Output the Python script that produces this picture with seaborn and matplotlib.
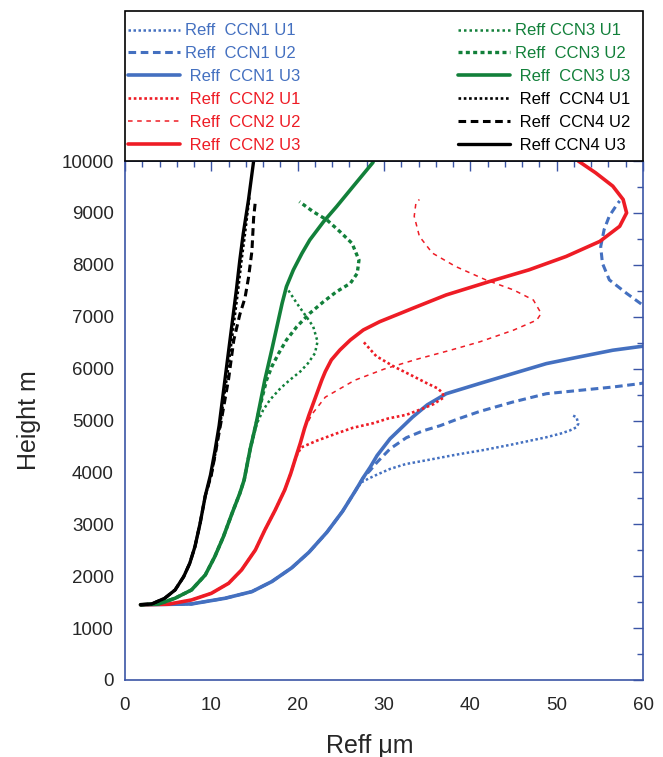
import matplotlib
matplotlib.use("Agg")
import matplotlib.pyplot as plt
from matplotlib.patches import Rectangle
from matplotlib.ticker import MultipleLocator
import seaborn as sns

# effective radius (um) vs height (m)
# CCN1 (blue)
ccn1_u1_x = [1.8, 7.7, 11.6, 14.7, 17.0, 19.3, 21.3, 23.4, 25.2, 26.7, 27.4, 28.2, 29.1, 30.7, 32.5, 35.5, 38.3, 41.5,
             44.9, 48.8, 50.5, 51.5, 52.3, 52.5, 52.3, 51.7]
ccn1_u1_h = [1450, 1465, 1575, 1703, 1896, 2160, 2460, 2850, 3250, 3650, 3810, 3880, 3950, 4067, 4160, 4252, 4340, 4430,
             4540, 4677, 4750, 4806, 4870, 4935, 5064, 5109]
ccn1_u2_x = [1.8, 7.7, 11.6, 14.7, 17.0, 19.3, 21.3, 23.4, 25.2, 26.7, 27.6, 28.4, 29.2, 30.7, 32.6, 34.5, 36.5, 38.4,
             41.0, 44.9, 48.8, 52.6, 56.5, 59.6, 62.5, 65, 66, 65, 63, 60, 58.1, 56.1, 55.3, 55.1, 55.5, 56.1, 57.1, 57.3]
ccn1_u2_h = [1450, 1465, 1575, 1703, 1896, 2160, 2460, 2850, 3250, 3650, 3900, 4040, 4196, 4454, 4670, 4800, 4900, 5020,
             5170, 5355, 5516, 5580, 5645, 5709, 5800, 6000, 6400, 6800, 7050, 7220, 7450, 7710, 8030, 8350, 8680, 8940,
             9190, 9230]
ccn1_u3_x = [1.8, 7.7, 11.6, 14.7, 17.0, 19.3, 21.3, 23.4, 25.2, 26.7, 27.6, 28.4, 29.2, 30.7, 33.3, 35.0, 37.2, 41.0,
             44.9, 48.8, 52.6, 56.5, 60]
ccn1_u3_h = [1450, 1465, 1575, 1703, 1896, 2160, 2460, 2850, 3250, 3650, 3900, 4100, 4325, 4648, 5064, 5300, 5516, 5709,
             5903, 6096, 6225, 6354, 6432]

# CCN2 (red)
ccn2_u1_x = [1.8, 5.0, 7.7, 10.0, 12.0, 13.5, 15.1, 16.2, 17.4, 18.5, 19.2, 19.8, 20.4, 22.2, 24.5, 26.4, 28.8, 30.5,
             32.6, 34.5, 35.8, 36.5, 36.9, 36.8, 36.2, 35.0, 33.3, 31.2, 29.1, 27.6]
ccn2_u1_h = [1450, 1460, 1542, 1670, 1863, 2120, 2505, 2890, 3275, 3661, 3980, 4300, 4480, 4610, 4750, 4860, 4950, 5040,
             5110, 5230, 5320, 5400, 5440, 5530, 5620, 5715, 5860, 6035, 6240, 6520]
ccn2_u2_x = [1.8, 5.0, 7.7, 10.0, 12.0, 13.5, 15.1, 16.2, 17.4, 18.5, 19.2, 19.8, 20.3, 20.8, 21.7, 23.2, 26.6, 30.0,
             33.8, 37.6, 41.1, 45.0, 47.7, 48.2, 47.3, 45.0, 41.8, 38.3, 35.6, 34.1, 33.5, 33.7, 34.1]
ccn2_u2_h = [1450, 1460, 1542, 1670, 1863, 2120, 2505, 2890, 3275, 3661, 3980, 4300, 4560, 4850, 5130, 5450, 5775, 5990,
             6180, 6350, 6516, 6741, 6935, 7064, 7322, 7516, 7709, 7967, 8226, 8548, 8935, 9193, 9258]
ccn2_u3_x = [1.8, 5.0, 7.7, 10.0, 12.0, 13.5, 15.1, 16.2, 17.4, 18.5, 19.2, 19.8, 20.3, 20.8, 21.3, 22.8, 23.2, 23.9,
             24.9, 26.1, 27.6, 29.5, 31.9, 33.3, 37.2, 42.2, 46.8, 51.1, 55.0, 57.3, 58.1, 57.7, 56.5, 54.5, 52.5]
ccn2_u3_h = [1450, 1460, 1542, 1670, 1863, 2120, 2505, 2890, 3275, 3661, 3980, 4300, 4560, 4850, 5100, 5782, 5942, 6167,
             6360, 6551, 6744, 6904, 7065, 7160, 7419, 7677, 7903, 8161, 8451, 8742, 9000, 9258, 9516, 9774, 10000]

# CCN3 (green)
ccn3_u1_x = [1.8, 3.9, 5.8, 7.7, 9.3, 10.4, 11.4, 12.4, 13.3, 13.8, 14.5, 15.3, 16.0, 16.8, 18.0, 19.1, 20.3, 21.2,
             22.0, 22.3, 21.8, 21.0, 19.9, 18.9, 18.7]
ccn3_u1_h = [1450, 1465, 1575, 1735, 2024, 2377, 2762, 3211, 3597, 3854, 4450, 4950, 5200, 5400, 5620, 5782, 5943, 6103,
             6296, 6521, 6810, 7002, 7259, 7515, 7580]
ccn3_u2_x = [1.8, 3.9, 5.8, 7.7, 9.3, 10.4, 11.4, 12.4, 13.3, 13.8, 14.5, 15.2, 15.9, 16.4, 17.0, 17.8, 18.7, 19.9,
             21.4, 23.0, 24.5, 26.1, 26.9, 27.1, 26.3, 24.9, 23.4, 21.8, 20.2]
ccn3_u2_h = [1450, 1465, 1575, 1735, 2024, 2377, 2762, 3211, 3597, 3854, 4450, 4950, 5450, 5780, 6037, 6294, 6551, 6808,
             7065, 7290, 7482, 7643, 7836, 8092, 8413, 8638, 8863, 9023, 9216]
ccn3_u3_x = [1.8, 3.9, 5.8, 7.7, 9.3, 10.4, 11.4, 12.4, 13.3, 13.8, 14.5, 15.2, 16.2, 17.0, 17.6, 18.2, 18.7, 19.5,
             20.5, 21.4, 23.0, 24.5, 26.4, 28.7, 28.9]
ccn3_u3_h = [1450, 1465, 1575, 1735, 2024, 2377, 2762, 3211, 3597, 3854, 4450, 4950, 5782, 6360, 6810, 7259, 7580, 7901,
             8222, 8478, 8831, 9120, 9505, 9968, 10050]

# CCN4 (black)
ccn4_u1_x = [1.8, 3.1, 4.6, 5.8, 6.8, 7.5, 8.1, 8.7, 9.3, 10.0, 10.5, 11.0, 11.9, 13.1, 13.5, 13.9, 14.4]
ccn4_u1_h = [1450, 1465, 1575, 1735, 1992, 2248, 2569, 3019, 3550, 3950, 4400, 4900, 5950, 7516, 8093, 8606, 9300]
ccn4_u2_x = [1.8, 3.1, 4.6, 5.8, 6.8, 7.5, 8.1, 8.7, 9.3, 10.0, 10.5, 11.1, 12.0, 12.6, 13.3, 13.9, 14.3, 14.7, 14.9, 15.1]
ccn4_u2_h = [1450, 1465, 1575, 1735, 1992, 2248, 2569, 3019, 3550, 3950, 4400, 4950, 5800, 6548, 7042, 7363, 7748, 8262,
             8904, 9225]
ccn4_u3_x = [1.8, 3.1, 4.6, 5.8, 6.8, 7.5, 8.1, 8.7, 9.3, 9.9, 10.4, 10.9, 11.7, 12.9, 13.3, 13.7, 14.3, 14.9]
ccn4_u3_h = [1450, 1465, 1575, 1735, 1992, 2248, 2569, 3019, 3550, 3950, 4400, 4900, 5950, 7516, 8093, 8606, 9248, 10000]

labels = ["Reff  CCN1 U1", "Reff  CCN1 U2", " Reff  CCN1 U3",
          " Reff  CCN2 U1", " Reff  CCN2 U2", " Reff  CCN2 U3",
          "Reff CCN3 U1", "Reff  CCN3 U2", " Reff  CCN3 U3",
          " Reff  CCN4 U1", " Reff  CCN4 U2", " Reff CCN4 U3"]

BLUE = "#4470c0"
RED = "#ee1c25"
GREEN = "#12803a"
BLACK = "#000000"
AXIS_COL = "#3b55a6"

series = [
    (ccn1_u1_x, ccn1_u1_h, BLUE, 1.8, (0, (1, 1))),
    (ccn1_u2_x, ccn1_u2_h, BLUE, 2.2, (0, (2.5, 1.5))),
    (ccn1_u3_x, ccn1_u3_h, BLUE, 2.6, "-"),
    (ccn2_u1_x, ccn2_u1_h, RED, 1.9, (0, (1, 1))),
    (ccn2_u2_x, ccn2_u2_h, RED, 1.1, (0, (3, 3))),
    (ccn2_u3_x, ccn2_u3_h, RED, 2.6, "-"),
    (ccn3_u1_x, ccn3_u1_h, GREEN, 1.8, (0, (1, 1.2))),
    (ccn3_u2_x, ccn3_u2_h, GREEN, 2.4, (0, (1.2, 1))),
    (ccn3_u3_x, ccn3_u3_h, GREEN, 2.6, "-"),
    (ccn4_u1_x, ccn4_u1_h, BLACK, 1.9, (0, (1, 1))),
    (ccn4_u2_x, ccn4_u2_h, BLACK, 2.2, (0, (2.5, 1.5))),
    (ccn4_u3_x, ccn4_u3_h, BLACK, 2.4, "-"),
]

sns.set_style("white")
plt.rcParams['font.family'] = ['Liberation Sans', 'DejaVu Sans']

fig = plt.figure(figsize=(6.63, 7.57), dpi=100)
ax = fig.add_axes([125 / 663, 1 - 680 / 757, 518 / 663, 519 / 757])

handles = []
for (xs, hs, col, lw, ls), lab in zip(series, labels):
    sns.lineplot(x=xs, y=hs, sort=False, estimator=None, color=col, lw=lw,
                 linestyle=ls, ax=ax)
    line = ax.lines[-1]
    line.set_label(lab)
    handles.append(line)

ax.set_xlim(0, 60)
ax.set_ylim(0, 10000)
ax.xaxis.set_major_locator(MultipleLocator(10))
ax.xaxis.set_minor_locator(MultipleLocator(2))
ax.yaxis.set_major_locator(MultipleLocator(1000))
ax.yaxis.set_minor_locator(MultipleLocator(500))
ax.tick_params(which='both', direction='in', top=True, right=True,
               color=AXIS_COL, width=1.0, labelsize=13.5)
ax.tick_params(which='major', length=7)
ax.tick_params(which='minor', length=4.5)
ax.tick_params(axis='x', pad=12)
ax.tick_params(axis='y', pad=8)
for sp in ax.spines.values():
    sp.set_color(AXIS_COL)
    sp.set_linewidth(1.2)

ax.set_xlabel("Reff \u03bcm", fontsize=18)
ax.set_ylabel("Height m", fontsize=18)
ax.xaxis.set_label_coords(0.473, -0.105)
ax.yaxis.set_label_coords(-0.162, 0.5)

# legend box sitting on top of the plot area, two separate columns
box_h = 150 / 519
ax.add_patch(Rectangle((0, 1), 1, box_h, transform=ax.transAxes, clip_on=False,
                       facecolor='white', edgecolor='black', lw=1.2, zorder=5))

leg_kw = dict(loc='upper left', fontsize=12, handlelength=3.1, handletextpad=0.3,
              labelspacing=0.47, borderpad=0, borderaxespad=0, frameon=False)
leg1 = ax.legend(handles=handles[:6], labels=labels[:6],
                 bbox_to_anchor=(3 / 518, 1.265), **leg_kw)
ax.add_artist(leg1)
leg2 = ax.legend(handles=handles[6:], labels=labels[6:],
                 bbox_to_anchor=(333 / 518, 1.265), **leg_kw)
for leg, hs in ((leg1, handles[:6]), (leg2, handles[6:])):
    leg.set_zorder(6)
    for txt, h in zip(leg.get_texts(), hs):
        txt.set_color(h.get_color())

fig.savefig("out.png", dpi=100)
